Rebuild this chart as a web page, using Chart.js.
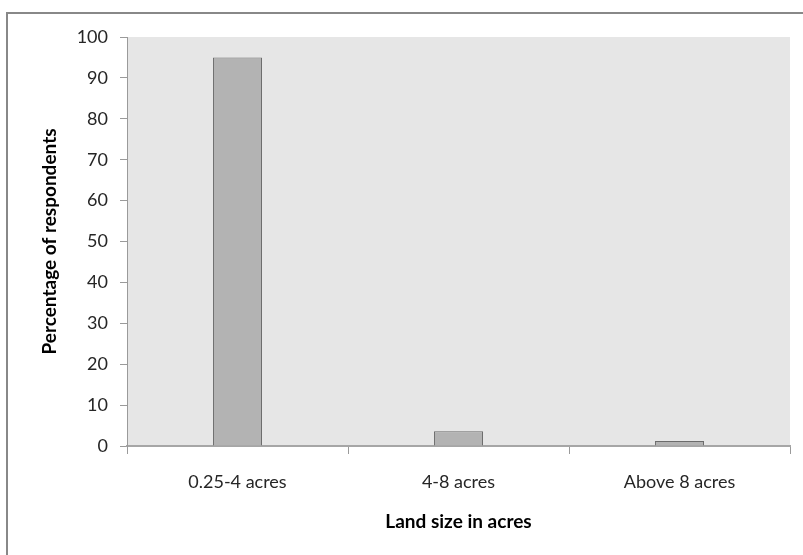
<!DOCTYPE html>
<html>
<head>
<meta charset="utf-8">
<script src="https://cdn.jsdelivr.net/npm/chart.js@4"></script>
<style>
  html, body { margin: 0; padding: 0; background: #fff; }
  #wrap { width: 803px; height: 555px; position: relative; }
</style>
</head>
<body>
<div id="wrap"><canvas id="landChart" width="803" height="555"></canvas></div>
<script>
const categories = ['0.25-4 acres', '4-8 acres', 'Above 8 acres'];
const percentages = [95, 3.6, 1.2];
const yTicks = [0, 10, 20, 30, 40, 50, 60, 70, 80, 90, 100];

const fontName = 'Lato, "Open Sans", sans-serif';

// grey plot background + outer frame
const backdrop = {
    id: 'backdrop',
    beforeDraw(chart) {
        const ctx = chart.ctx;
        const a = chart.chartArea;
        ctx.save();
        ctx.fillStyle = '#e6e6e6';
        ctx.fillRect(a.left, a.top, a.right - a.left, a.bottom - a.top);
        ctx.strokeStyle = '#888888';
        ctx.lineWidth = 2;
        ctx.strokeRect(7, 13, 820, 600);
        ctx.restore();
    }
};

const ctx = document.getElementById('landChart').getContext('2d');
new Chart(ctx, {
    type: 'bar',
    data: {
        labels: categories,
        datasets: [{
            data: percentages,
            backgroundColor: '#b3b3b3',
            borderColor: '#6b6b6b',
            borderWidth: 1,
            categoryPercentage: 1,
            barPercentage: 0.222
        }]
    },
    options: {
        responsive: false,
        animation: false,
        layout: { padding: { top: 37, right: 13, left: 0, bottom: 0 } },
        plugins: { legend: { display: false }, tooltip: { enabled: false } },
        scales: {
            x: {
                grid: { display: true, drawOnChartArea: false, drawTicks: true, tickLength: 8, color: '#9a9a9a', offset: true },
                border: { color: '#a6a6a6', width: 2 },
                ticks: { color: '#262626', font: { family: fontName, size: 18 }, padding: 17 },
                title: { display: true, text: 'Land size in acres', color: '#000', font: { family: fontName, size: 19, weight: 'bold' }, padding: { top: 0, bottom: 22 } },
                afterFit: s => { s.height = 109; }
            },
            y: {
                min: 0,
                max: 100,
                afterBuildTicks: s => { s.ticks = yTicks.map(v => ({ value: v })); },
                grid: { display: true, drawOnChartArea: false, drawTicks: true, tickLength: 7, color: '#9a9a9a' },
                border: { color: '#9a9a9a', width: 1 },
                ticks: { color: '#262626', font: { family: fontName, size: 18 }, padding: 12 },
                title: { display: true, text: 'Percentage of respondents', color: '#000', font: { family: fontName, size: 19, weight: 'bold' }, padding: { top: 38, bottom: 0 } },
                afterFit: s => { s.width = 127; }
            }
        }
    },
    plugins: [backdrop]
});
</script>
</body>
</html>
